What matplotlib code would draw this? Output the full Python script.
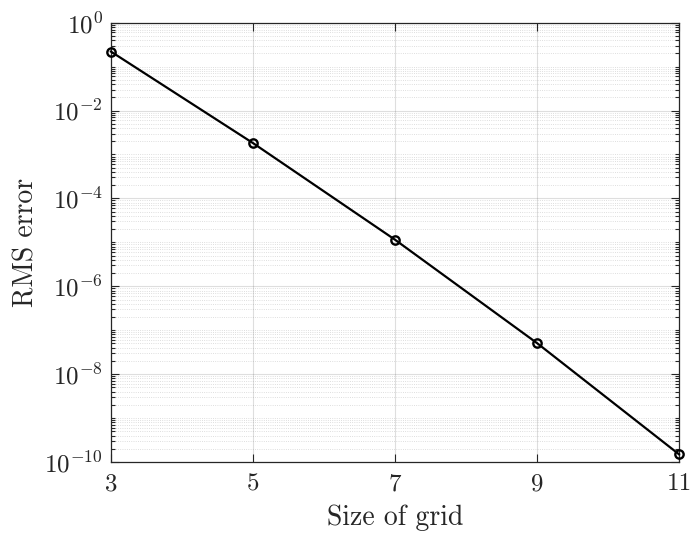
import numpy as np
import matplotlib
matplotlib.use('Agg')
import matplotlib.pyplot as plt
from matplotlib.ticker import LogLocator, FixedLocator, FuncFormatter, NullFormatter

plt.rcParams['font.family'] = ['cmr10', 'DejaVu Serif']
plt.rcParams['mathtext.fontset'] = 'cm'
plt.rcParams['axes.unicode_minus'] = False

# data
grid_size = [3, 5, 7, 9, 11]
rms_error = [2.2e-1, 1.82e-3, 1.15e-5, 5.1e-8, 1.5e-10]
xticks = [3, 5, 7, 9, 11]

axcol = (0.15, 0.15, 0.15)

fig = plt.figure(figsize=(6.91, 5.33), dpi=100)
ax = fig.add_axes([0.1606, 0.1332, 0.8220, 0.8242])

ax.semilogy(grid_size, rms_error, '-o', color='k', lw=1.6,
            markersize=6, markerfacecolor='none', markeredgewidth=1.7,
            clip_on=False, zorder=5)

ax.set_xlim(3, 11)
ax.set_ylim(1e-10, 1)
ax.xaxis.set_major_locator(FixedLocator(xticks))
ax.yaxis.set_major_locator(FixedLocator([10.0**k for k in range(-10, 1, 2)]))
ax.yaxis.set_minor_locator(LogLocator(base=10, subs=np.arange(1, 10), numticks=30))
ax.yaxis.set_major_formatter(FuncFormatter(lambda v, p: r'$10^{%d}$' % round(np.log10(v))))
ax.yaxis.set_minor_formatter(NullFormatter())

ax.grid(True, which='major', color=(0.15, 0.15, 0.15), alpha=0.15, lw=0.8)
ax.grid(True, which='minor', axis='y', color=(0.15, 0.15, 0.15), alpha=0.2,
        lw=0.6, linestyle=':')

ax.tick_params(which='both', direction='in', top=True, right=True, colors=axcol,
               labelsize=18, width=0.8)
ax.tick_params(which='major', length=6)
ax.tick_params(which='minor', length=3)
ax.tick_params(axis='x', pad=8)
ax.tick_params(axis='y', pad=6)
for s in ax.spines.values():
    s.set_color(axcol)
    s.set_linewidth(0.9)

ax.set_xlabel('Size of grid', fontsize=20, color=axcol, labelpad=7)
ax.set_ylabel('RMS error', fontsize=20, color=axcol, labelpad=3.5)

fig.savefig('out.png', dpi=100)
